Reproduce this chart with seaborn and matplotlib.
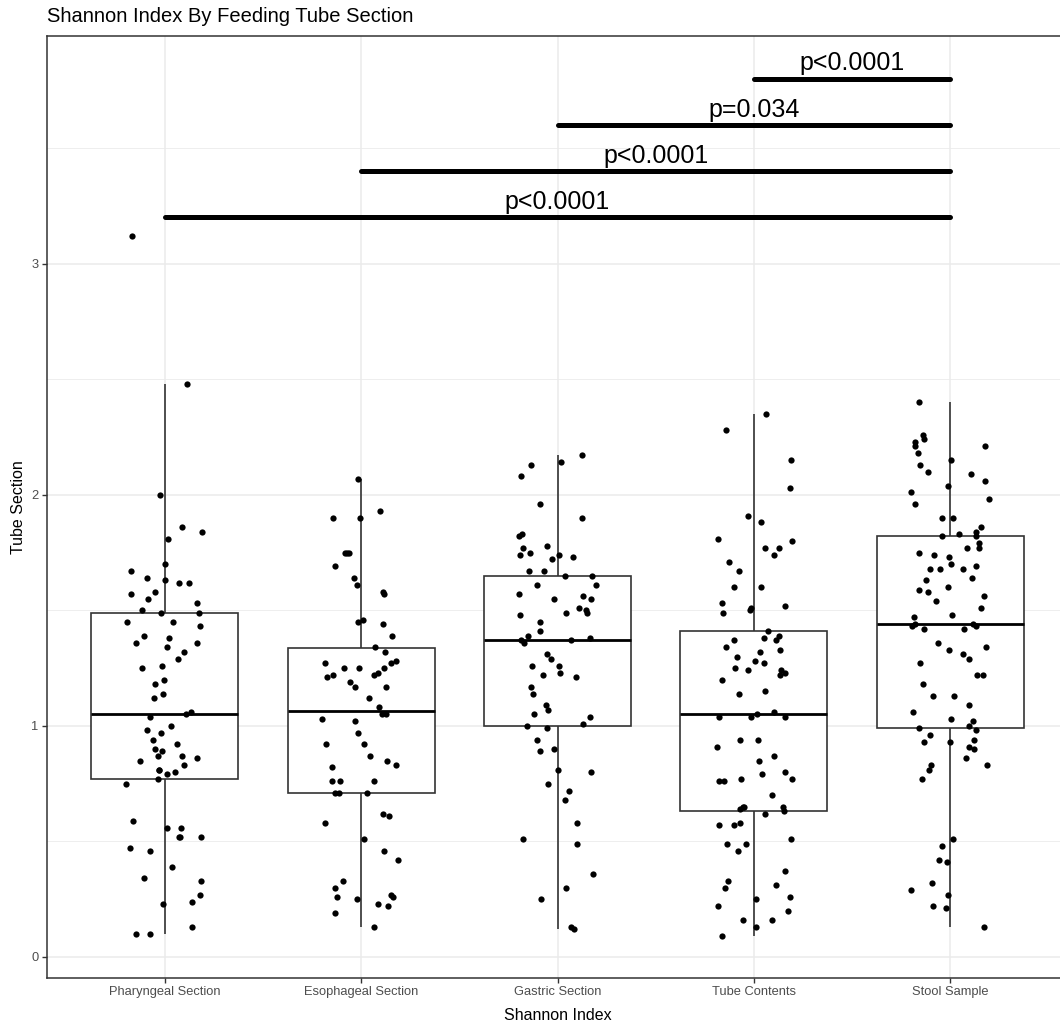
import numpy as np
import pandas as pd
import matplotlib
matplotlib.use('Agg')
import matplotlib.pyplot as plt
import seaborn as sns
from matplotlib.ticker import MultipleLocator

# Shannon index values per feeding tube section
sections = ['Pharyngeal Section', 'Esophageal Section', 'Gastric Section',
            'Tube Contents', 'Stool Sample']

pharyngeal = [3.12, 2.48, 2.00, 1.86, 1.84, 1.81, 1.70, 1.67, 1.64, 1.63,
              1.62, 1.62, 1.58, 1.57, 1.55, 1.53, 1.50, 1.49, 1.49, 1.45,
              1.45, 1.43, 1.39, 1.38, 1.36, 1.36, 1.34, 1.32, 1.29, 1.26,
              1.25, 1.20, 1.18, 1.14, 1.12, 1.06, 1.05, 1.04, 1.00, 0.98,
              0.97, 0.94, 0.92, 0.90, 0.89, 0.87, 0.87, 0.86, 0.85, 0.83,
              0.81, 0.81, 0.80, 0.79, 0.77, 0.75, 0.59, 0.56, 0.56, 0.52,
              0.52, 0.52, 0.47, 0.46, 0.39, 0.34, 0.33, 0.27, 0.24, 0.23,
              0.13, 0.10, 0.10]

esophageal = [2.07, 1.93, 1.90, 1.90, 1.75, 1.75, 1.75, 1.69, 1.64, 1.61,
              1.58, 1.57, 1.46, 1.45, 1.44, 1.39, 1.34, 1.32, 1.28, 1.27,
              1.27, 1.25, 1.25, 1.25, 1.23, 1.22, 1.22, 1.21, 1.19, 1.17,
              1.17, 1.12, 1.08, 1.05, 1.05, 1.03, 1.02, 0.97, 0.92, 0.92,
              0.87, 0.85, 0.83, 0.82, 0.76, 0.76, 0.76, 0.71, 0.71, 0.71,
              0.62, 0.61, 0.58, 0.51, 0.46, 0.42, 0.33, 0.30, 0.27, 0.26,
              0.26, 0.25, 0.23, 0.22, 0.19, 0.13]

gastric = [2.17, 2.14, 2.13, 2.08, 1.96, 1.90, 1.83, 1.82, 1.78, 1.77,
           1.75, 1.74, 1.74, 1.73, 1.72, 1.67, 1.67, 1.65, 1.65, 1.61,
           1.61, 1.57, 1.56, 1.55, 1.55, 1.51, 1.50, 1.49, 1.49, 1.48,
           1.45, 1.41, 1.39, 1.38, 1.37, 1.37, 1.36, 1.31, 1.29, 1.26,
           1.26, 1.23, 1.22, 1.21, 1.17, 1.14, 1.09, 1.07, 1.05, 1.04,
           1.01, 1.00, 0.99, 0.94, 0.90, 0.89, 0.81, 0.80, 0.75, 0.72,
           0.68, 0.58, 0.51, 0.49, 0.36, 0.30, 0.25, 0.13, 0.12]

tube_contents = [2.35, 2.28, 2.15, 2.03, 1.91, 1.88, 1.81, 1.80, 1.77, 1.77,
                 1.74, 1.71, 1.67, 1.60, 1.60, 1.53, 1.52, 1.51, 1.50, 1.49,
                 1.41, 1.39, 1.38, 1.37, 1.37, 1.34, 1.33, 1.32, 1.30, 1.28,
                 1.27, 1.25, 1.24, 1.24, 1.23, 1.22, 1.20, 1.15, 1.14, 1.06,
                 1.05, 1.04, 1.04, 1.04, 0.94, 0.94, 0.91, 0.87, 0.85, 0.80,
                 0.79, 0.77, 0.77, 0.76, 0.76, 0.70, 0.65, 0.65, 0.65, 0.64,
                 0.63, 0.62, 0.58, 0.57, 0.57, 0.51, 0.49, 0.49, 0.46, 0.37,
                 0.33, 0.31, 0.30, 0.26, 0.25, 0.22, 0.20, 0.16, 0.16, 0.13,
                 0.09]

stool = [2.40, 2.26, 2.24, 2.23, 2.21, 2.21, 2.18, 2.15, 2.13, 2.10,
         2.09, 2.06, 2.04, 2.01, 1.98, 1.96, 1.90, 1.90, 1.86, 1.84,
         1.83, 1.82, 1.82, 1.79, 1.77, 1.77, 1.75, 1.74, 1.73, 1.70,
         1.69, 1.68, 1.68, 1.68, 1.64, 1.63, 1.60, 1.59, 1.58, 1.56,
         1.54, 1.51, 1.48, 1.47, 1.44, 1.44, 1.43, 1.43, 1.42, 1.42,
         1.36, 1.34, 1.33, 1.31, 1.29, 1.27, 1.22, 1.22, 1.18, 1.13,
         1.13, 1.09, 1.06, 1.03, 1.02, 1.00, 0.99, 0.98, 0.96, 0.94,
         0.93, 0.93, 0.91, 0.90, 0.86, 0.83, 0.83, 0.81, 0.77, 0.51,
         0.48, 0.42, 0.41, 0.32, 0.29, 0.27, 0.22, 0.21, 0.13]

# pairwise comparisons against the stool sample
bar_from = ['Pharyngeal Section', 'Esophageal Section', 'Gastric Section', 'Tube Contents']
bar_to = ['Stool Sample', 'Stool Sample', 'Stool Sample', 'Stool Sample']
bar_y = [3.2, 3.4, 3.6, 3.8]
bar_labels = ['p<0.0001', 'p<0.0001', 'p=0.034', 'p<0.0001']

values = [pharyngeal, esophageal, gastric, tube_contents, stool]
df = pd.DataFrame({
    'section': np.repeat(sections, [len(v) for v in values]),
    'shannon': np.concatenate(values),
})

sns.set_style('white')
plt.rcParams['font.family'] = ['Liberation Sans', 'DejaVu Sans']

fig = plt.figure(figsize=(10.6, 10.21), dpi=100)
ax = fig.add_axes([47 / 1060, 1 - 978 / 1021, 1021 / 1060, 942 / 1021])

sns.boxplot(data=df, x='section', y='shannon', order=sections, width=0.75,
            color='white', linecolor='#333333', linewidth=1.2,
            showfliers=False, showcaps=False,
            medianprops=dict(color='black', linewidth=2.0), ax=ax)

np.random.seed(7)
sns.stripplot(data=df, x='section', y='shannon', order=sections, color='black',
              size=4.5, jitter=0.2, zorder=3, ax=ax)

# significance bars
for start, end, y, label in zip(bar_from, bar_to, bar_y, bar_labels):
    x0 = sections.index(start)
    x1 = sections.index(end)
    ax.plot([x0, x1], [y, y], color='black', lw=3.6, solid_capstyle='round', zorder=4)
    ax.annotate(label, xy=((x0 + x1) / 2, y), xytext=(0, 6), textcoords='offset points',
                ha='center', va='baseline', fontsize=18, color='black')

ax.set_xlim(-0.6, 4.6)
ax.set_ylim(-0.091, 3.985)
ax.set_yticks([0, 1, 2, 3])
ax.set_yticklabels(['0', '1', '2', '3'])
ax.yaxis.set_minor_locator(MultipleLocator(0.5))

ax.set_axisbelow(True)
ax.grid(which='major', color='#ebebeb', lw=1.1)
ax.yaxis.grid(which='minor', color='#ebebeb', lw=0.6)
ax.tick_params(which='major', length=3.5, width=1.0, color='#333333',
               labelcolor='#4d4d4d', labelsize=9.3, pad=2.5, bottom=True, left=True)
ax.tick_params(which='minor', length=0)

for side in ['left', 'right', 'top', 'bottom']:
    ax.spines[side].set_visible(True)
    ax.spines[side].set_color('#333333')
    ax.spines[side].set_linewidth(1.1)

ax.set_xlabel('Shannon Index', fontsize=11.5, color='black')
ax.set_ylabel('Tube Section', fontsize=11.5, color='black')
ax.xaxis.set_label_coords(0.5, -0.032)
ax.xaxis.label.set_va('top')
ax.yaxis.set_label_coords(-0.021, 0.5)

fig.text(47 / 1060, 1 - 22 / 1021, 'Shannon Index By Feeding Tube Section',
         fontsize=14.5, ha='left', va='baseline', color='black')

fig.savefig('out.png', dpi=100)
plt.close(fig)
